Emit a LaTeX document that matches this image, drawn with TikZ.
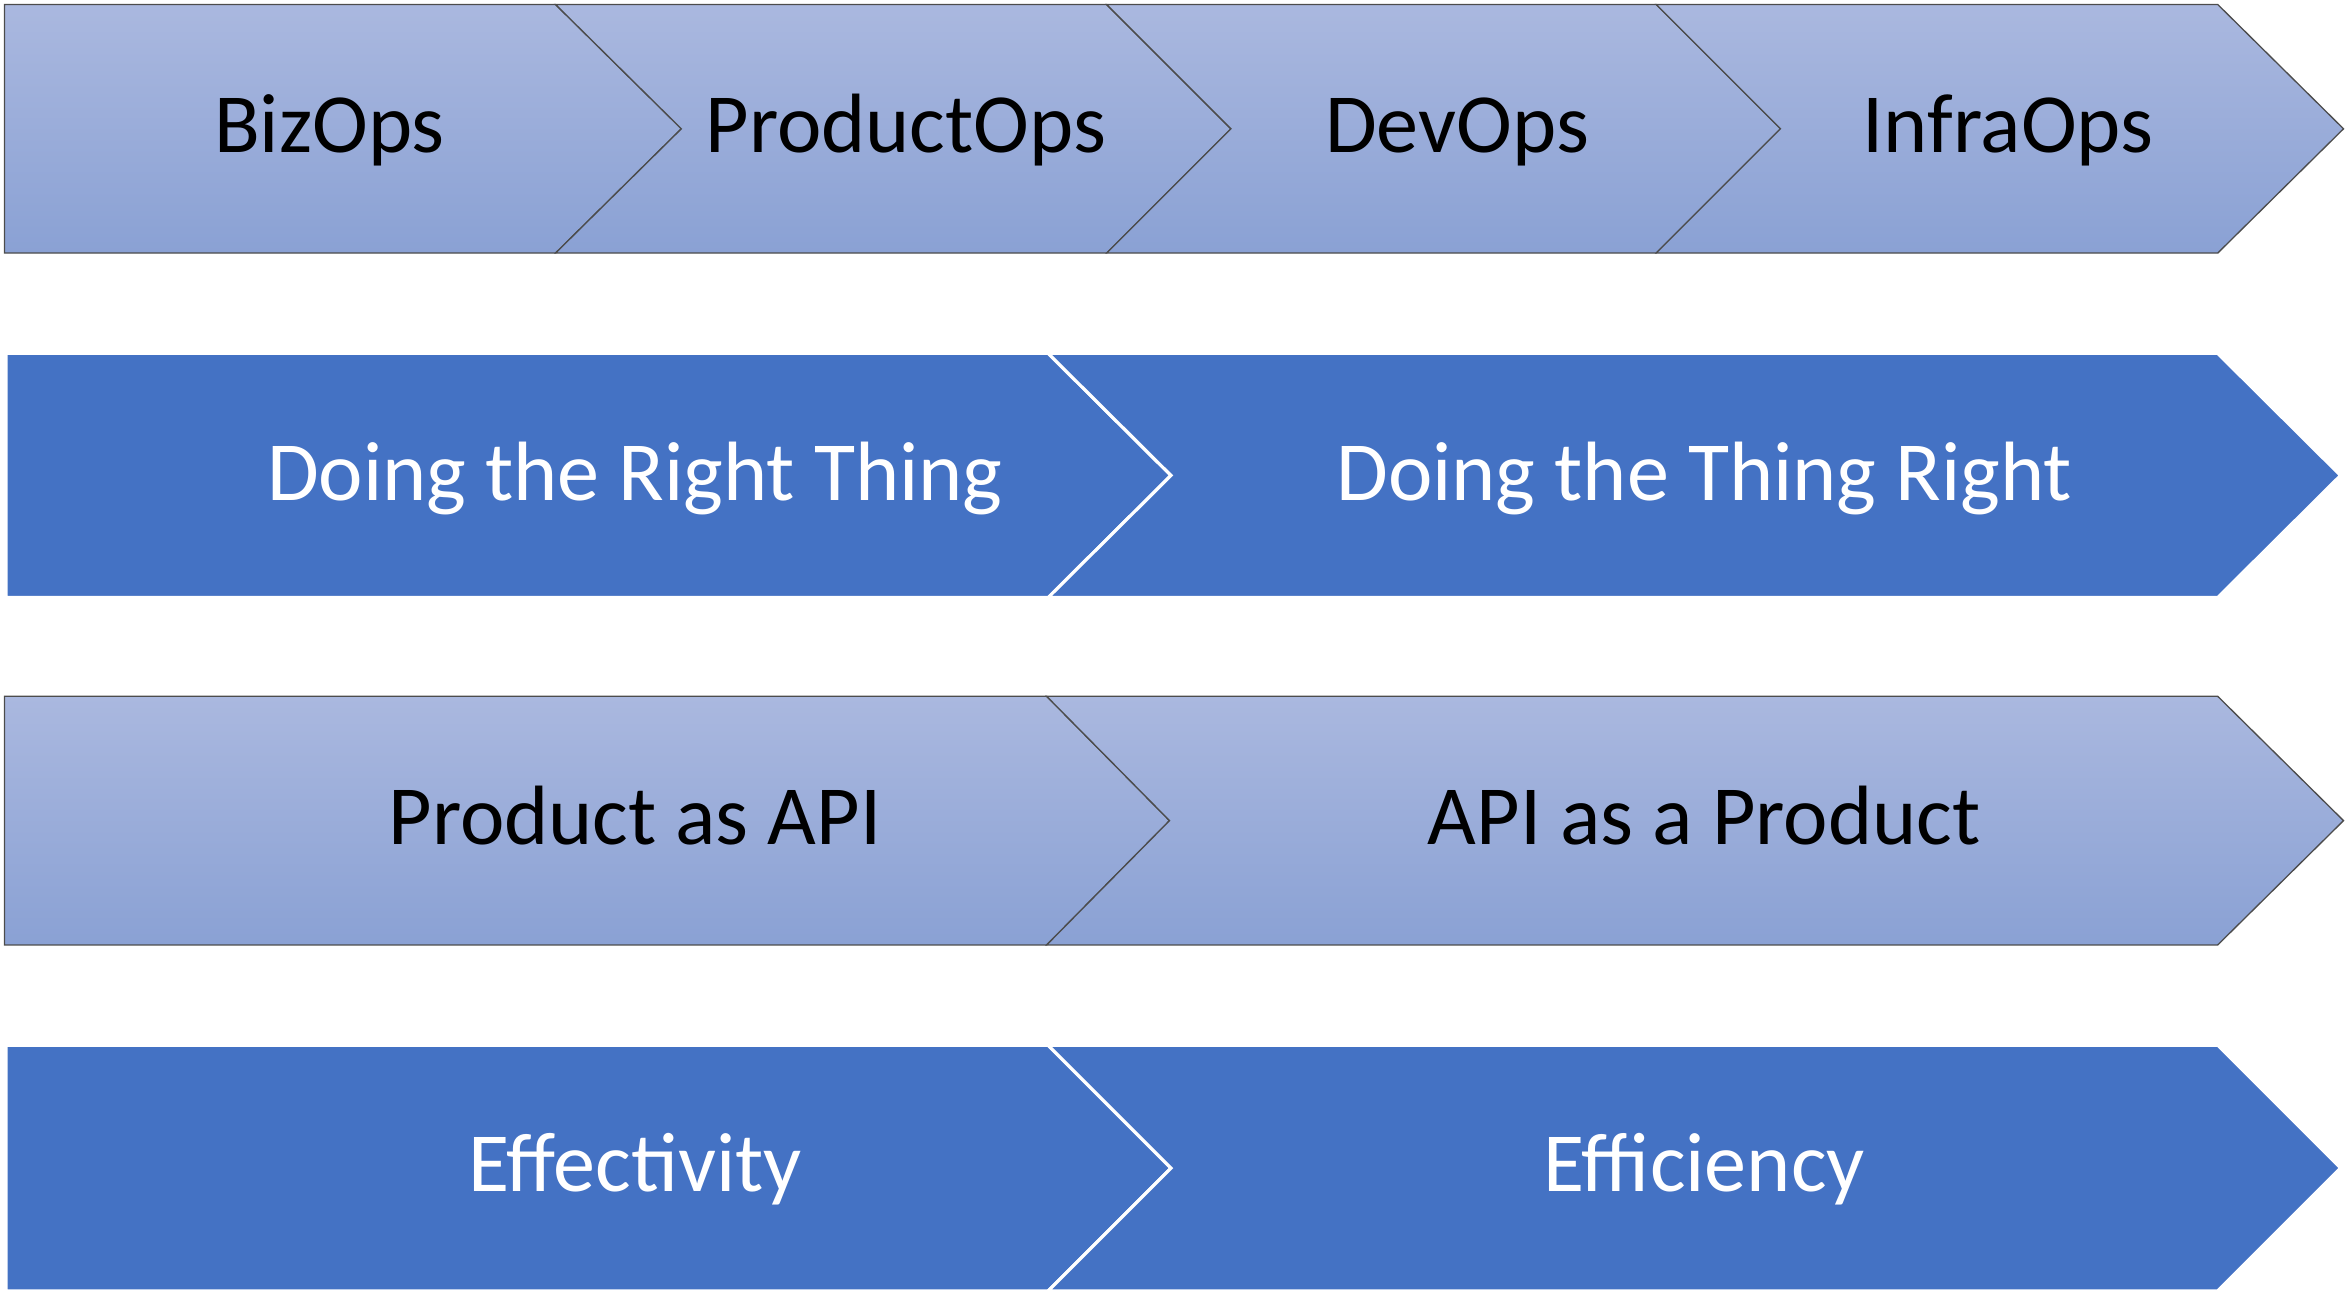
\documentclass[tikz,border=0pt]{standalone}
\usepackage{fontspec}
\setmainfont{Carlito}
\definecolor{lighttop}{RGB}{170,184,223}
\definecolor{lightbot}{RGB}{138,161,212}
\definecolor{darkfill}{RGB}{68,114,196}
\tikzset{
    chevlight/.style={top color=lighttop, bottom color=lightbot, draw=black!70, line width=0.5pt},
    chevdark/.style={fill=darkfill, draw=white, line width=1.2pt},
    txtblack/.style={text=black, font=\fontsize{32}{38}\selectfont, anchor=base},
    txtwhite/.style={txtblack, text=white}
}
\begin{document}
\begin{tikzpicture}[x=0.02cm, y=-0.02cm]
    \useasboundingbox (0,0) rectangle (1568,867);
    
    % row 1
    \draw[chevlight] (3,3) -- (371,3) -- (455,86) -- (371,169) -- (3,169) -- cycle;
    \draw[chevlight] (371,3) -- (739,3) -- (822,86) -- (739,169) -- (371,169) -- (455,86) -- cycle;
    \draw[chevlight] (739,3) -- (1106,3) -- (1189,86) -- (1106,169) -- (739,169) -- (822,86) -- cycle;
    \draw[chevlight] (1106,3) -- (1481,3) -- (1565,86) -- (1481,169) -- (1106,169) -- (1189,86) -- cycle;
    \node[txtblack] (bizops) at (220,102) {BizOps};
    \node[txtblack] (productops) at (605,102) {ProductOps};
    \node[txtblack] (devops) at (973,102) {DevOps};
    \node[txtblack] (infraops) at (1341,102) {InfraOps};
    
    % row 2
    \draw[chevdark] (4,236) -- (700,236) -- (782,317.5) -- (700,399) -- (4,399) -- cycle;
    \draw[chevdark] (700,236) -- (1481,236) -- (1563,317.5) -- (1481,399) -- (700,399) -- (782,317.5) -- cycle;
    \node[txtwhite] (rightthing) at (424,334) {Doing the Right Thing};
    \node[txtwhite] (thingright) at (1138,334) {Doing the Thing Right};
    
    % row 3
    \draw[chevlight] (3,465) -- (699,465) -- (781,548) -- (699,631) -- (3,631) -- cycle;
    \draw[chevlight] (699,465) -- (1481,465) -- (1565,548) -- (1481,631) -- (699,631) -- (781,548) -- cycle;
    \node[txtblack] (productapi) at (424,564) {Product as API};
    \node[txtblack] (apiproduct) at (1138,564) {API as a Product};
    
    % row 4
    \draw[chevdark] (4,698) -- (700,698) -- (782,780) -- (700,862) -- (4,862) -- cycle;
    \draw[chevdark] (700,698) -- (1481,698) -- (1563,780) -- (1481,862) -- (700,862) -- (782,780) -- cycle;
    \node[txtwhite] (effectivity) at (424,796) {Effectivity};
    \node[txtwhite] (efficiency) at (1138,796) {Efficiency};
\end{tikzpicture}
\end{document}
